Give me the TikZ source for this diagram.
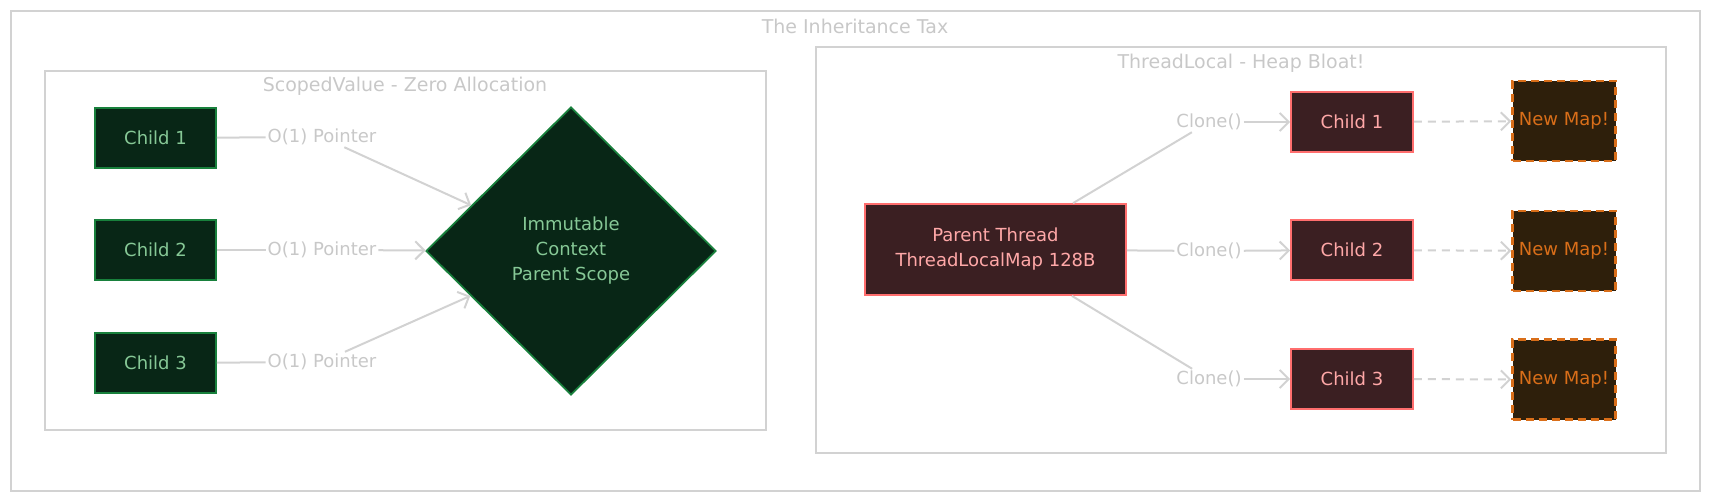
\documentclass[tikz,border=0pt]{standalone}
\usepackage{fontspec}
\setmainfont{DejaVu Sans}
\usetikzlibrary{shapes.geometric,arrows.meta}

\definecolor{framegray}{RGB}{210,210,210}
\definecolor{labelgray}{RGB}{200,200,200}
\definecolor{greenfill}{RGB}{8,38,22}
\definecolor{greenline}{RGB}{24,128,60}
\definecolor{greentext}{RGB}{134,200,150}
\definecolor{redfill}{RGB}{59,31,34}
\definecolor{redline}{RGB}{255,110,110}
\definecolor{redtext}{RGB}{255,168,168}
\definecolor{mapfill}{RGB}{46,31,11}
\definecolor{mapline}{RGB}{217,110,25}

\begin{document}
\begin{tikzpicture}[x=1pt,y=-1pt,
  frame/.style={draw=framegray,line width=1.6pt},
  frametitle/.style={text=labelgray,font=\fontsize{19}{22}\selectfont},
  boxtext/.style={font=\fontsize{18}{25}\selectfont,align=center,inner sep=0pt},
  greenbox/.style={boxtext,draw=greenline,fill=greenfill,text=greentext,line width=1.8pt,minimum width=121pt,minimum height=60pt},
  scopebox/.style={boxtext,diamond,draw=greenline,fill=greenfill,text=greentext,line width=1.8pt,minimum width=290pt,minimum height=288pt},
  redbox/.style={boxtext,draw=redline,fill=redfill,text=redtext,line width=1.8pt,minimum width=122pt,minimum height=60pt},
  mapbox/.style={boxtext,draw=mapline,fill=mapfill,text=mapline,line width=2.4pt,dash pattern=on 8pt off 5pt,minimum width=103pt,minimum height=80pt},
  edgelabel/.style={text=labelgray,font=\fontsize{18}{22}\selectfont,inner sep=2pt},
  link/.style={draw=framegray,line width=2pt},
  pointer/.style={link,-{Straight Barb[length=9pt,width=18pt]}},
  copyline/.style={pointer,dash pattern=on 8pt off 6pt}]

\useasboundingbox (0,0) rectangle (1711,501);

\draw[frame] (11,11) rectangle (1700,491);
\node[frametitle] (tax) at (855,26) {The Inheritance Tax};

\draw[frame] (45,71) rectangle (766,430);
\node[frametitle] (svtitle) at (405,86) {ScopedValue - Zero Allocation};

\draw[frame] (816,47) rectangle (1666,453);
\node[frametitle] (tltitle) at (1241,63) {ThreadLocal - Heap Bloat!};

% scoped value side
\node[greenbox] (sv1) at (155.5,138) {Child 1};
\node[greenbox] (sv2) at (155.5,250) {Child 2};
\node[greenbox] (sv3) at (155.5,363) {Child 3};
\node[scopebox] (scope) at (571,251) {Immutable\\Context\\Parent Scope};

\node[edgelabel] (ptr1) at (322,137) {O(1) Pointer};
\node[edgelabel] (ptr2) at (322,250) {O(1) Pointer};
\node[edgelabel] (ptr3) at (322,362) {O(1) Pointer};

\draw[link] (sv1) -- (ptr1);
\draw[pointer] (ptr1) -- (scope);
\draw[link] (sv2) -- (ptr2);
\draw[pointer] (ptr2) -- (scope);
\draw[link] (sv3) -- (ptr3);
\draw[pointer] (ptr3) -- (scope);

% thread local side
\node[redbox,minimum width=261pt,minimum height=91pt] (parent) at (995.5,249.5) {Parent Thread\\ThreadLocalMap 128B};
\node[redbox] (tl1) at (1352,122) {Child 1};
\node[redbox] (tl2) at (1352,250) {Child 2};
\node[redbox] (tl3) at (1352,379) {Child 3};

\node[mapbox] (map1) at (1564,121) {New Map!};
\node[mapbox] (map2) at (1564,251) {New Map!};
\node[mapbox] (map3) at (1564,379.5) {New Map!};

\node[edgelabel] (clone1) at (1209,122) {Clone()};
\node[edgelabel] (clone2) at (1209,251) {Clone()};
\node[edgelabel] (clone3) at (1209,379) {Clone()};

\draw[link] (parent) -- (clone1);
\draw[pointer] (clone1) -- (tl1);
\draw[link] (parent) -- (clone2);
\draw[pointer] (clone2) -- (tl2);
\draw[link] (parent) -- (clone3);
\draw[pointer] (clone3) -- (tl3);

\draw[copyline] (tl1) -- (map1);
\draw[copyline] (tl2) -- (map2);
\draw[copyline] (tl3) -- (map3);

\end{tikzpicture}
\end{document}
